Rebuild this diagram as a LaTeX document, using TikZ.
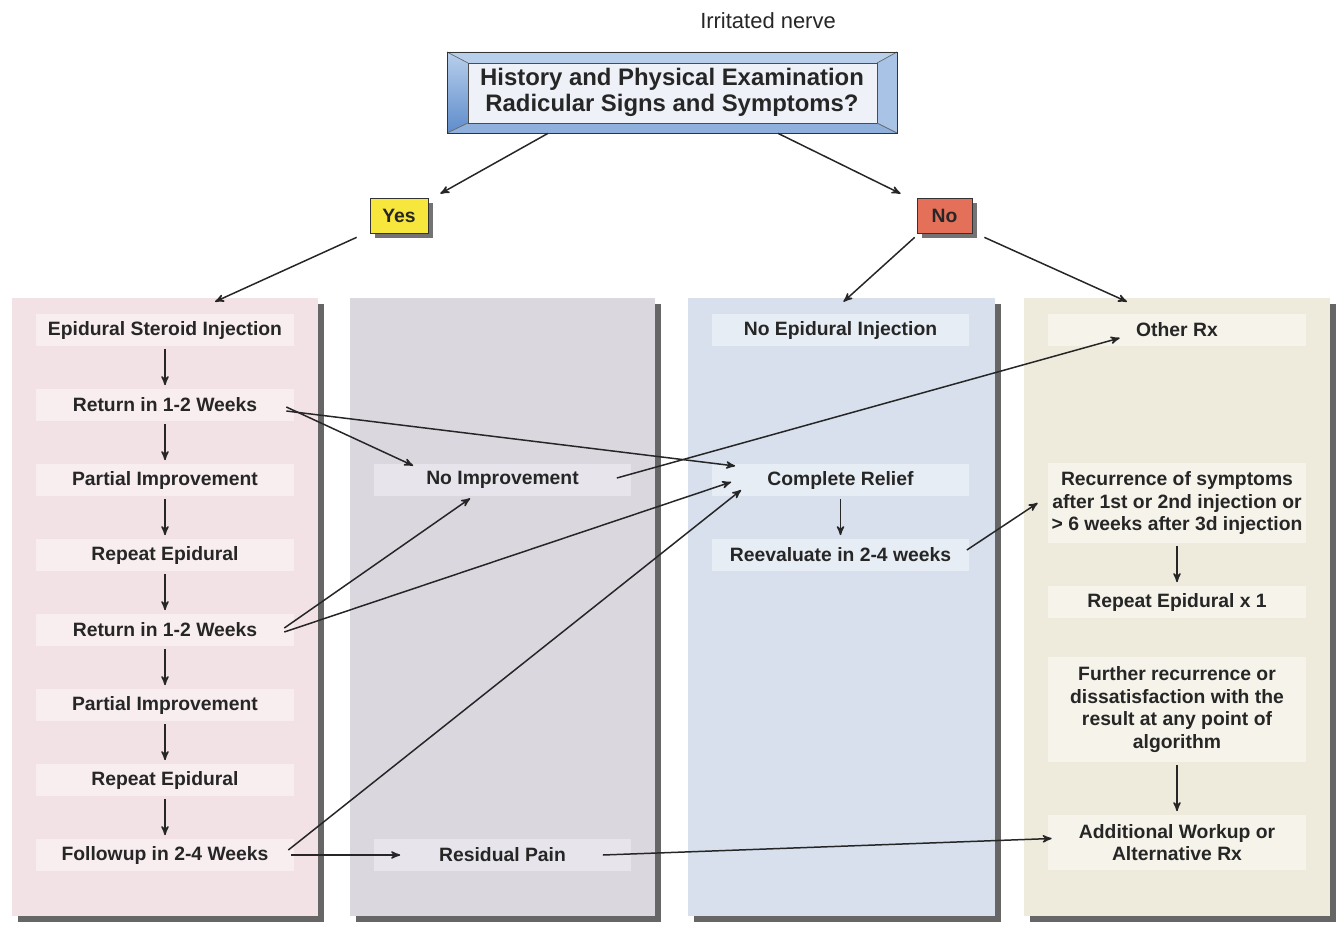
\documentclass[tikz,border=0pt]{standalone}
\usepackage{fontspec}
\setmainfont{Liberation Sans}
\usetikzlibrary{arrows,shapes,shadows,calc}
\definecolor{pinkcol}{HTML}{F3E2E5}
\definecolor{pinkbox}{HTML}{F8EEF0}
\definecolor{greycol}{HTML}{DAD7DF}
\definecolor{greybox}{HTML}{E7E5EB}
\definecolor{bluecol}{HTML}{D7E0EC}
\definecolor{bluebox}{HTML}{E7EDF4}
\definecolor{tancol}{HTML}{EEEADC}
\definecolor{tanbox}{HTML}{F6F3EA}
\definecolor{yesfill}{HTML}{F7E63C}
\definecolor{nofill}{HTML}{E5705A}
\definecolor{bevtop}{HTML}{B8CFEC}
\definecolor{bevright}{HTML}{A9C3E6}
\definecolor{bevbot}{HTML}{8FB0DC}
\definecolor{bevleft}{HTML}{5E8CCB}
\definecolor{bevin}{HTML}{EEF2F8}
\definecolor{inkgrey}{HTML}{262626}
\tikzstyle{flow}=[->, >=stealth', line width=0.85pt, black!85]
\tikzstyle{colpanel}=[minimum width=6.12cm, minimum height=12.36cm, inner sep=0pt,
  drop shadow={shadow xshift=3.4pt, shadow yshift=-3.4pt, fill=black!60, opacity=1}]
\tikzstyle{stepbox}=[minimum width=5.16cm, minimum height=0.64cm, inner sep=2pt, align=center,
  text=inkgrey, font=\fontsize{11}{13}\selectfont\bfseries]
\tikzstyle{answer}=[draw=black!80, minimum height=0.7cm, inner sep=0pt, text=inkgrey,
  font=\fontsize{11}{13}\selectfont\bfseries,
  drop shadow={shadow xshift=2.8pt, shadow yshift=-2.8pt, fill=black!55, opacity=1}]

\begin{document}
\begin{tikzpicture}[x=0.02cm, y=-0.02cm]
\useasboundingbox (0,0) rectangle (1338,926);
% columns
\node[colpanel, fill=pinkcol] (col1) at (165,607) {};
\node[colpanel, fill=greycol, minimum width=6.1cm] (col2) at (502.5,607) {};
\node[colpanel, fill=bluecol, minimum width=6.14cm] (col3) at (841.5,607) {};
\node[colpanel, fill=tancol] (col4) at (1177,607) {};
% title box
\node[text=inkgrey] (nerve) at (768,21) {\fontsize{12.5}{14}\selectfont Irritated nerve};
\fill[bevtop] (447,52) -- (897,52) -- (877,63) -- (468,63) -- cycle;
\shade[top color=bevtop, bottom color=bevleft] (447,52) -- (468,63) -- (468,123) -- (447,133) -- cycle;
\fill[bevright] (897,52) -- (877,63) -- (877,123) -- (897,133) -- cycle;
\fill[bevbot] (447,133) -- (468,123) -- (877,123) -- (897,133) -- cycle;
\draw[black!70, fill=bevin] (468,63) rectangle (877,123);
\draw[black!60] (447,52) -- (468,63) (897,52) -- (877,63) (447,133) -- (468,123) (897,133) -- (877,123);
\node[draw=black!80, minimum width=9cm, minimum height=1.62cm, align=center, text=inkgrey,
  font=\fontsize{13.6}{15}\selectfont\bfseries] (main) at (672,92.5)
  {History and Physical Examination\\Radicular Signs and Symptoms?};
\node[answer, fill=yesfill, minimum width=1.16cm] (yes) at (399,215.5) {Yes};
\node[answer, fill=nofill, minimum width=1.1cm] (no) at (944.5,215.5) {No};
% left column
\node[stepbox, fill=pinkbox] (esi) at (165,330) {Epidural Steroid Injection};
\node[stepbox, fill=pinkbox] (ret1) at (165,405) {Return in 1-2 Weeks};
\node[stepbox, fill=pinkbox] (part1) at (165,480) {Partial Improvement};
\node[stepbox, fill=pinkbox] (rep1) at (165,555) {Repeat Epidural};
\node[stepbox, fill=pinkbox] (ret2) at (165,630) {Return in 1-2 Weeks};
\node[stepbox, fill=pinkbox] (part2) at (165,705) {Partial Improvement};
\node[stepbox, fill=pinkbox] (rep2) at (165,780) {Repeat Epidural};
\node[stepbox, fill=pinkbox] (follow) at (165,855) {Followup in 2-4 Weeks};
% second column
\node[stepbox, fill=greybox] (noimp) at (502.5,480) {No Improvement};
\node[stepbox, fill=greybox] (resid) at (502.5,855) {Residual Pain};
% third column
\node[stepbox, fill=bluebox] (noepi) at (840.5,330) {No Epidural Injection};
\node[stepbox, fill=bluebox] (relief) at (840.5,480) {Complete Relief};
\node[stepbox, fill=bluebox] (reeval) at (840.5,555) {Reevaluate in 2-4 weeks};
% right column
\node[stepbox, fill=tanbox] (otherrx) at (1177,330) {Other Rx};
\node[stepbox, fill=tanbox, minimum height=1.6cm] (recur) at (1177,503)
  {Recurrence of symptoms\\after 1st or 2nd injection or\\> 6 weeks after 3d injection};
\node[stepbox, fill=tanbox] (rep3) at (1177,602) {Repeat Epidural x 1};
\node[stepbox, fill=tanbox, minimum height=2.1cm] (further) at (1177,709.5)
  {Further recurrence or\\dissatisfaction with the\\result at any point of\\algorithm};
\node[stepbox, fill=tanbox, minimum height=1.1cm] (addwork) at (1177,842.5)
  {Additional Workup or\\Alternative Rx};
% arrows
\draw[flow]($(main.south)+(-124,0)$)--($(yes.north east)+(12,-4)$);
\draw[flow]($(main.south)+(106,0)$)--($(no.north west)+(-16,-4)$);
\draw[flow]($(yes.south west)+(-13,4)$)--($(col1.north)+(50,4)$);
\draw[flow]($(no.south west)+(-2,4)$)--($(col3.north)+(2,4)$);
\draw[flow]($(no.south east)+(12,4)$)--($(col4.north)+(-50,4)$);
\foreach \a/\b in {esi/ret1,ret1/part1,part1/rep1,rep1/ret2,ret2/part2,part2/rep2,rep2/follow,relief/reeval,recur/rep3,further/addwork}
  \draw[flow, shorten <=1.5pt, shorten >=2pt](\a.south)--(\b.north);
\draw[flow]($(ret1.east)+(-8,2)$)--($(noimp.north west)+(40,2)$);
\draw[flow]($(ret1.east)+(-8,6)$)--($(relief.west)+(24,-14)$);
\draw[flow]($(noimp.east)+(-15,-2)$)--($(otherrx.west)+(72,8)$);
\draw[flow]($(ret2.east)+(-10,-2)$)--($(noimp.south west)+(97,2)$);
\draw[flow]($(ret2.east)+(-10,2)$)--($(relief.west)+(20,2)$);
\draw[flow]($(follow.east)+(-6,-5)$)--($(relief.west)+(30,10)$);
\draw[flow]($(follow.east)+(-3,0)$)--($(resid.west)+(27,0)$);
\draw[flow]($(resid.east)+(-29,0)$)--($(addwork.west)+(4,-4)$);
\draw[flow]($(reeval.east)+(-3,-5)$)--($(recur.west)+(-10,0)$);
\end{tikzpicture}
\end{document}
